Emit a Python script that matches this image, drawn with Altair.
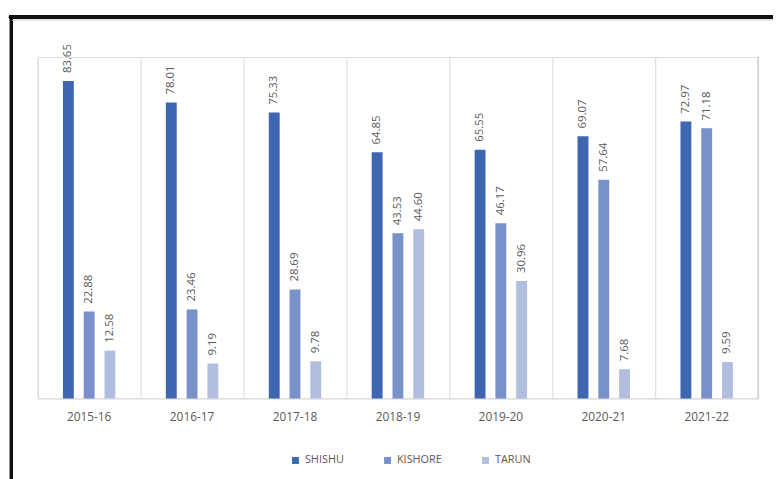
import altair as alt
import pandas as pd

years = ["2015-16", "2016-17", "2017-18", "2018-19", "2019-20", "2020-21", "2021-22"]
series = ["SHISHU", "KISHORE", "TARUN"]
shishu = [83.65, 78.01, 75.33, 64.85, 65.55, 69.07, 72.97]
kishore = [22.88, 23.46, 28.69, 43.53, 46.17, 57.64, 71.18]
tarun = [12.58, 9.19, 9.78, 44.60, 30.96, 7.68, 9.59]
colors = ["#3F66B0", "#7891C9", "#B1BEDF"]

rows = []
for i, y in enumerate(years):
    for s, vals in zip(series, [shishu, kishore, tarun]):
        rows.append({"year": y, "series": s, "value": vals[i], "label": f"{vals[i]:.2f}"})
df = pd.DataFrame(rows)

FONT = "Open Sans"
GRAY = "#595959"

x_enc = alt.X(
    "year:N",
    sort=years,
    scale=alt.Scale(paddingInner=0, paddingOuter=0),
    axis=alt.Axis(
        title=None, labelAngle=0, ticks=False, grid=True, bandPosition=0,
        gridColor="#d9d9d9", domainColor="#d9d9d9", labelColor=GRAY,
        labelFontSize=12, labelFont=FONT, labelPadding=13,
    ),
)
xoff = alt.XOffset("series:N", sort=series,
                   scale=alt.Scale(paddingInner=0, paddingOuter=0.976))
y_enc = alt.Y("value:Q", scale=alt.Scale(domain=[0, 90]), axis=None)

base = alt.Chart(df)

bars = base.mark_bar(width=11).encode(
    x=x_enc, xOffset=xoff, y=y_enc,
    color=alt.Color(
        "series:N", sort=series,
        scale=alt.Scale(domain=series, range=colors),
        legend=alt.Legend(
            title=None, orient="none", legendX=255, legendY=402,
            direction="horizontal", symbolType="square", symbolSize=49,
            symbolStrokeWidth=0, labelFontSize=11, labelFont=FONT,
            labelColor=GRAY, columnPadding=38, labelOffset=4,
        ),
    ),
)

labels = base.mark_text(
    angle=270, align="left", baseline="middle", dx=8,
    fontSize=11.5, font=FONT, color=GRAY,
).encode(x=x_enc, xOffset=xoff, y=y_enc, text="label:N")

grid_end = base.mark_rule(color="#d9d9d9").encode(
    x=alt.value(728), y=alt.value(0), y2=alt.value(345)
)

frame_top = base.mark_rule(color="#111111", strokeWidth=3).encode(
    x=alt.value(-29), x2=alt.value(800), y=alt.value(-40.5)
)
frame_left = base.mark_rule(color="#111111", strokeWidth=3).encode(
    x=alt.value(-26.5), y=alt.value(-42), y2=alt.value(500)
)
inner_top = base.mark_rule(color="#e6e6e6", strokeWidth=1.5).encode(
    x=alt.value(-25), x2=alt.value(800), y=alt.value(-37)
)

chart = alt.layer(grid_end, bars, labels, frame_top, frame_left, inner_top).properties(
    width=728, height=345,
    autosize=alt.AutoSizeParams(type="none"),
    padding={"left": 30, "top": 47, "right": 15, "bottom": 79},
).configure_view(stroke=None).configure(background="white")

chart.save("out.html", embed_options={"renderer": "svg", "actions": False})
